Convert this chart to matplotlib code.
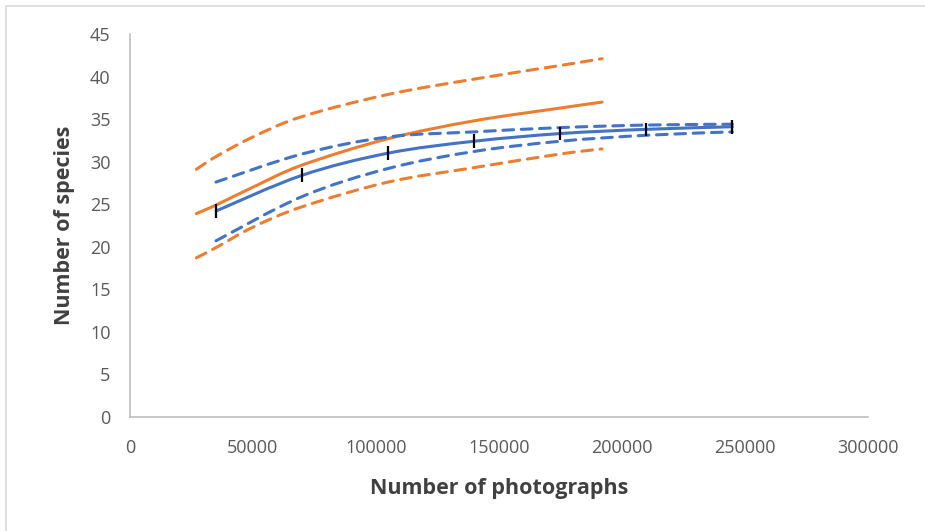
import matplotlib
matplotlib.use("Agg")
import matplotlib.pyplot as plt
from matplotlib.patches import Rectangle, PathPatch
from matplotlib.path import Path

# Observed (blue) rarefaction curve
obs_x = [35000, 70000, 105000, 140000, 175000, 210000, 245000]
obs_y = [24.2, 28.4, 31.0, 32.4, 33.3, 33.8, 34.1]
obs_upper = [27.6, 30.9, 32.9, 33.5, 34.0, 34.3, 34.4]
obs_lower = [20.7, 25.9, 29.2, 31.2, 32.4, 33.1, 33.5]
obs_err = [0.8, 0.8, 0.8, 0.8, 0.8, 0.8, 0.8]

# Extrapolated (orange) curve
ext_x = [27000, 35000, 50000, 70000, 105000, 140000, 175000, 192000]
ext_y = [23.9, 24.9, 27.0, 29.6, 32.7, 34.8, 36.3, 37.0]
ext_upper = [29.1, 30.6, 32.9, 35.3, 37.9, 39.7, 41.3, 42.1]
ext_lower = [18.7, 19.9, 22.3, 24.7, 27.6, 29.3, 30.9, 31.5]

x_ticks = [0, 50000, 100000, 150000, 200000, 250000, 300000]
y_ticks = [0, 5, 10, 15, 20, 25, 30, 35, 40, 45]

blue = "#4472C4"
orange = "#ED7D31"
grey = "#595959"

plt.rcParams['font.family'] = ['Open Sans', 'DejaVu Sans']


def smooth_line(ax, xs, ys, color, lw, dashed=False):
    """Excel-style smoothed line: cubic Bezier through the data points."""
    n = len(xs)
    pts = list(zip(xs, ys))
    verts = [pts[0]]
    codes = [Path.MOVETO]
    for i in range(n - 1):
        p0 = pts[i - 1] if i > 0 else pts[i]
        p1 = pts[i]
        p2 = pts[i + 1]
        p3 = pts[i + 2] if i + 2 < n else pts[i + 1]
        c1 = (p1[0] + (p2[0] - p0[0]) / 6.0, p1[1] + (p2[1] - p0[1]) / 6.0)
        c2 = (p2[0] - (p3[0] - p1[0]) / 6.0, p2[1] - (p3[1] - p1[1]) / 6.0)
        verts += [c1, c2, p2]
        codes += [Path.CURVE4, Path.CURVE4, Path.CURVE4]
    ls = (0, (3.5, 2.5)) if dashed else '-'
    patch = PathPatch(Path(verts, codes), fill=False, edgecolor=color, lw=lw,
                      linestyle=ls, capstyle='round')
    ax.add_patch(patch)


fig = plt.figure(figsize=(9.25, 5.31), dpi=100)
ax = fig.add_axes([0.1405, 0.2147, 0.7975, 0.7213])

lw = 2.2
smooth_line(ax, ext_x, ext_upper, orange, lw, dashed=True)
smooth_line(ax, ext_x, ext_lower, orange, lw, dashed=True)
smooth_line(ax, ext_x, ext_y, orange, lw)
smooth_line(ax, obs_x, obs_upper, blue, lw, dashed=True)
smooth_line(ax, obs_x, obs_lower, blue, lw, dashed=True)
smooth_line(ax, obs_x, obs_y, blue, lw)
ax.errorbar(obs_x, obs_y, yerr=obs_err, fmt='none', ecolor='black', elinewidth=1.6, capsize=0)

ax.set_xlim(0, 300000)
ax.set_ylim(0, 45)
ax.set_xticks(x_ticks)
ax.set_xticklabels([str(v) for v in x_ticks])
ax.set_yticks(y_ticks)
ax.set_yticklabels([str(v) for v in y_ticks])
ax.tick_params(length=0, labelsize=13, colors=grey)
ax.tick_params(axis='x', pad=16)
ax.tick_params(axis='y', pad=14)

for s in ['top', 'right']:
    ax.spines[s].set_visible(False)
for s in ['left', 'bottom']:
    ax.spines[s].set_color('#BFBFBF')
    ax.spines[s].set_linewidth(1.2)

ax.set_xlabel("Number of photographs", fontsize=15.5, fontweight='bold', color='#404040', labelpad=15)
ax.set_ylabel("Number of species", fontsize=15.5, fontweight='bold', color='#404040', labelpad=11)

fig.patches.append(Rectangle((0.006, -0.01), 1.2, 0.998, transform=fig.transFigure,
                             fill=False, edgecolor='#D9D9D9', lw=1.2))

fig.savefig("out.png", dpi=100)
